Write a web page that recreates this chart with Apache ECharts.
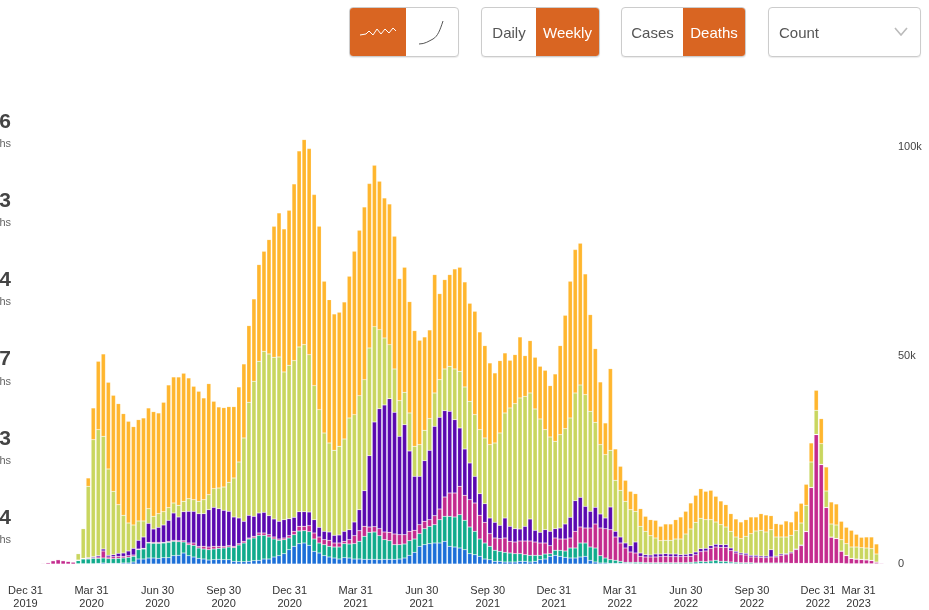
<!DOCTYPE html>
<html>
<head>
<meta charset="utf-8">
<script src="https://cdn.jsdelivr.net/npm/echarts@6/dist/echarts.min.js"></script>
<style>
    html, body { margin: 0; padding: 0; background: #fff; overflow: hidden; }
    body { font-family: "Liberation Sans Narrow", "Liberation Sans", sans-serif; }
    #chart { position: absolute; left: 0; top: 0; width: 929px; height: 610px; }
    .group { position: absolute; top: 7px; height: 48px; display: flex; border: 1px solid #ccc; border-radius: 4px; overflow: hidden; background: #fff; font-size: 15px; color: #555; box-shadow: 0 1px 1px rgba(0,0,0,.08); }
    .group div { display: flex; align-items: center; justify-content: center; height: 100%; }
    .group .on { background: #d96522; color: #fff; }
</style>
</head>
<body>
<div id="chart"></div>
<div class="group" style="left:349px;width:108px">
    <div class="on" style="width:56px"><svg width="40" height="20"><polyline points="2,13 8,12 11,9 15,13 19,7 23,12 27,7 31,11 35,6 38,9" fill="none" stroke="#fff" stroke-width="1"/></svg></div>
    <div style="width:52px"><svg width="30" height="30"><path d="M2 27 C8 27 12 24 16 22 C21 19 23 13 26 4" fill="none" stroke="#555" stroke-width="1"/></svg></div>
</div>
<div class="group" style="left:481px;width:117px">
    <div style="width:54px">Daily</div>
    <div class="on" style="width:63px">Weekly</div>
</div>
<div class="group" style="left:621px;width:123px">
    <div style="width:61px">Cases</div>
    <div class="on" style="width:62px">Deaths</div>
</div>
<div class="group" style="left:768px;width:151px">
    <div style="width:112px;justify-content:flex-start;padding-left:10px;box-sizing:border-box">Count</div>
    <div style="width:39px"><svg width="14" height="10"><polyline points="1,1 7,8 13,1" fill="none" stroke="#bbb" stroke-width="1.6"/></svg></div>
</div>
<script>
    "use strict";
    var blue = [
        0,0,0,0,0,0,0,0,0,0,
        80,80,80,80,160,240,160,160,160,240,
        240,480,1200,1200,1440,1440,1360,1520,1520,2000,
        2080,2640,2000,1680,1360,1200,960,1040,1120,1040,
        1040,640,560,560,640,800,880,1200,1200,1680,
        2000,2480,3440,4240,4880,5040,4480,3040,2640,2000,
        1680,1440,1200,1520,1440,1200,1200,1120,1120,1120,
        1040,1120,1120,1120,1200,1440,2080,2800,4240,4640,
        4880,5040,5040,5440,4240,4080,3840,3440,2480,2240,
        1840,1200,1040,640,640,480,480,480,640,640,
        480,640,1040,1200,1840,2080,1840,1600,1440,1440,
        1680,1840,880,480,240,240,160,160,160,160,
        160,80,80,80,80,80,80,80,80,80,
        80,80,80,80,160,160,160,160,160,160,
        160,80,80,80,80,80,80,80,80,80,
        80,80,80,80,80,80,80,80,80,80,
        80,80,80,40,40,40,40,40,40,40,40
    ];
    var teal = [
        0,0,0,0,0,0,0,0,0,0,
        720,1120,1120,1280,1200,1200,1120,1120,1200,1200,
        1360,1360,2240,2400,3600,3520,3600,3520,3680,3440,
        3280,2640,2640,2800,2480,2400,2480,2560,2640,2800,
        3040,3280,4000,4480,5360,5440,6000,5680,5280,4320,
        3680,3360,2800,2800,3040,2960,3280,2960,2400,2640,
        2560,2640,2880,3360,3360,3680,4240,5520,6480,6560,
        5760,4720,4480,3520,3440,3360,3520,3200,3040,3840,
        4160,4400,5600,6000,7200,7200,8000,7040,6400,5600,
        4160,3840,3200,2640,2400,2320,2160,2000,1840,1600,
        1600,1440,1040,1200,640,1200,1440,1520,2400,2400,
        3360,3200,3200,3360,1760,1200,880,720,480,240,
        240,320,320,240,240,240,240,240,240,240,
        240,240,320,400,480,400,560,720,480,480,
        320,320,240,240,240,160,160,160,160,160,
        160,160,80,80,80,80,80,80,80,80,
        80,80,80,40,40,40,40,40,40,40,40
    ];
    var magenta = [
        0,0,80,160,320,800,1040,800,640,480,
        80,80,160,160,320,1680,400,480,480,400,
        400,320,160,160,160,240,240,160,240,240,
        240,320,400,560,400,640,640,640,480,400,
        320,320,320,400,240,400,560,560,560,480,
        320,400,560,800,1120,1040,1440,1440,1440,1200,
        1440,960,960,560,1040,1920,2560,2400,1280,1280,
        1680,1840,2000,2560,2400,2240,2240,2080,2160,1760,
        1600,2160,2560,4640,5600,5760,6800,6000,6560,6800,
        5680,4960,3040,2960,3040,3440,2800,2800,3040,3280,
        3440,3200,2960,2640,1920,2960,2720,2880,2400,4000,
        3840,3600,4560,5760,6640,7040,7200,5600,4400,3440,
        2480,2240,1440,1360,1360,1360,1440,1520,1440,1440,
        1440,1520,1440,1760,2320,2560,3040,3200,3360,3360,
        2720,2240,1920,1840,1360,1440,1360,1280,1440,1440,
        1840,2000,2480,3280,4240,7600,18160,30880,23680,13360,
        6240,5920,2880,1920,1200,1040,960,880,720,320,160
    ];
    var purple = [
        0,0,0,0,0,0,0,0,0,0,
        80,80,160,240,320,480,400,480,720,800,
        1120,1600,2080,2720,4560,3200,3600,4160,5040,6560,
        5680,6960,7600,7600,7840,7840,8960,9360,9040,8640,
        8240,7040,6160,4800,5440,4800,4800,4960,4560,4320,
        4240,4400,4080,3360,3520,3520,3280,3200,2320,2000,
        2000,1840,1920,2400,2400,3280,5040,8560,17120,25120,
        28800,30480,32080,29200,23600,26400,19280,12960,11600,14560,
        16640,21440,22000,20720,19600,17600,14000,11120,8800,6400,
        5200,4480,3760,3760,3200,4800,3600,3200,2880,3520,
        5280,2800,2560,3200,3440,2240,2640,3600,4960,7360,
        7120,5200,4000,4000,3360,2560,5440,1360,1440,1200,
        1520,2640,800,560,480,720,640,640,640,640,
        480,480,640,640,720,640,640,640,640,640,
        640,400,400,400,400,400,320,400,1760,240,
        320,240,240,160,160,80,80,80,80,80,
        80,80,80,80,80,80,80,80,80,80,0
    ];
    var green = [
        0,0,0,0,0,0,0,0,0,0,
        1520,7120,17120,28080,30240,27040,20720,15200,11680,9040,
        6720,5600,4640,3840,3520,3040,3280,3200,3040,2400,
        2800,2480,3040,2800,2960,3360,3600,4480,4960,5600,
        6960,9360,13440,20000,27120,32400,36400,38640,38800,38800,
        39440,35440,36800,37600,39520,40080,37760,32160,28240,23600,
        21360,20400,21280,22160,26800,25760,27360,26640,25840,22880,
        18960,16080,12960,10400,8560,7760,9120,7200,7600,7280,
        7600,8000,9040,10000,10800,12160,13600,14880,14800,14800,
        15360,15760,17600,19040,22160,25200,28400,30000,31440,31200,
        30240,29120,27200,24000,22640,20960,22400,22880,23840,25840,
        26960,26800,24000,20400,16640,15200,13600,12240,11200,10000,
        8640,7360,6400,5600,4640,3840,3200,3200,3280,3600,
        3760,4880,5920,7120,7280,6880,6240,5360,4800,4240,
        4000,3440,3440,4080,5200,5840,6160,5760,4800,4560,
        4080,4000,4000,4400,5280,6240,6080,5760,4960,3920,
        3120,3200,2720,2800,2720,2880,2800,2800,2800,1920,80
    ];
    var orange = [
        0,0,0,0,0,0,0,0,0,0,
        0,0,2000,7600,16400,19760,20800,23040,24240,24400,
        24400,23600,24320,24720,24160,25120,24160,26240,29440,30240,
        30800,30720,28960,27200,26400,24400,26640,20960,19440,19040,
        18160,17120,18000,17760,18400,19760,23200,24000,27440,31440,
        34560,34320,37200,42400,47040,49200,49440,45840,44000,36400,
        34400,32720,32160,32880,34000,39200,39680,41440,39440,38720,
        35600,33600,33760,31840,29280,30000,26720,27760,25040,22400,
        21280,28400,20640,21440,22000,24000,24960,25200,23520,24800,
        23440,22160,19600,16800,17360,14400,11440,11760,14640,9760,
        12560,12400,12640,14240,12320,16160,21360,27200,32800,34400,
        34000,28960,23200,17680,15040,7600,19600,7520,5760,5040,
        4400,4240,4240,3600,3840,4240,3440,3920,3920,4640,
        5280,5440,6240,6480,7120,6800,7040,6160,5680,5360,
        4240,4320,4000,4000,4000,3360,4000,4080,3360,3200,
        3040,3840,3200,4640,4720,5040,4560,4800,6000,5760,
        5280,5040,4400,3920,4000,3040,2480,2640,2800,2400,80
    ];
    var weekIndex = blue.map(function (v, i) { return i; });

    // x labels sit on their own scale, a little wider than the bars
    var tickWeeks = [0, 13, 26, 39, 52, 65, 78, 91, 104, 117, 130, 143, 156, 164];
    var tickLabels = [
        "Dec 31\n2019", "Mar 31\n2020", "Jun 30\n2020", "Sep 30\n2020", "Dec 31\n2020",
        "Mar 31\n2021", "Jun 30\n2021", "Sep 30\n2021", "Dec 31\n2021", "Mar 31\n2022",
        "Jun 30\n2022", "Sep 30\n2022", "Dec 31\n2022", "Mar 31\n2023"
    ];
    var tickSlots = [];
    for (var s = 0; s < 170; s++) { tickSlots.push(s); }

    var statNumbers = ["06", "3", "34", "57", "23", "34"];
    var statUnit = "deaths";

    var seriesNames = ["Blue", "Teal", "Magenta", "Purple", "Green", "Orange"];
    var seriesData = [blue, teal, magenta, purple, green, orange];
    var seriesColors = ["#1b6fd8", "#10ab8c", "#c42a8e", "#5a08b0", "#c9d65f", "#ffb62e"];

    var narrow = '"Liberation Sans Narrow", "Liberation Sans", sans-serif';

    var graphics = [];
    statNumbers.forEach(function (num, k) {
        graphics.push({
            type: "text", x: 11, y: 122 + k * 79.2,
            style: { text: num, align: "right", verticalAlign: "middle", fill: "#444", font: "bold 21px " + narrow }
        });
        graphics.push({
            type: "text", x: 11, y: 144 + k * 79.2,
            style: { text: statUnit, align: "right", verticalAlign: "middle", fill: "#666", font: "11px " + narrow }
        });
    });

    var chart = echarts.init(document.getElementById("chart"), null, { renderer: "canvas" });
    chart.setOption({
        animation: false,
        grid: { left: 25.5, right: 45, top: 105.6, bottom: 45.7 },
        graphic: graphics,
        xAxis: [
            { type: "category", data: weekIndex, show: false },
            {
                type: "category", data: tickSlots, boundaryGap: false, position: "bottom",
                axisLine: { show: false }, axisTick: { show: false },
                axisLabel: {
                    interval: function (idx) { return tickWeeks.indexOf(idx) >= 0; },
                    formatter: function (v) { return tickLabels[tickWeeks.indexOf(Number(v))]; },
                    margin: 20, fontSize: 11, lineHeight: 13, color: "#333", fontFamily: narrow,
                    hideOverlap: false
                }
            }
        ],
        yAxis: {
            type: "value", position: "right", min: 0, max: 110000, interval: 50000,
            axisLine: { show: false }, axisTick: { show: false }, splitLine: { show: false },
            axisLabel: {
                margin: 14, fontSize: 11, color: "#444", fontFamily: narrow, showMaxLabel: false,
                formatter: function (v) { return v === 0 ? "0" : (v / 1000) + "k"; }
            }
        },
        series: seriesNames.map(function (name, k) {
            return {
                name: name, type: "bar", stack: "deaths", xAxisIndex: 0,
                data: seriesData[k], barCategoryGap: "16%",
                itemStyle: { color: seriesColors[k], borderColor: "rgba(255,255,255,0.3)", borderWidth: 0.5 }
            };
        })
    });
</script>
</body>
</html>
